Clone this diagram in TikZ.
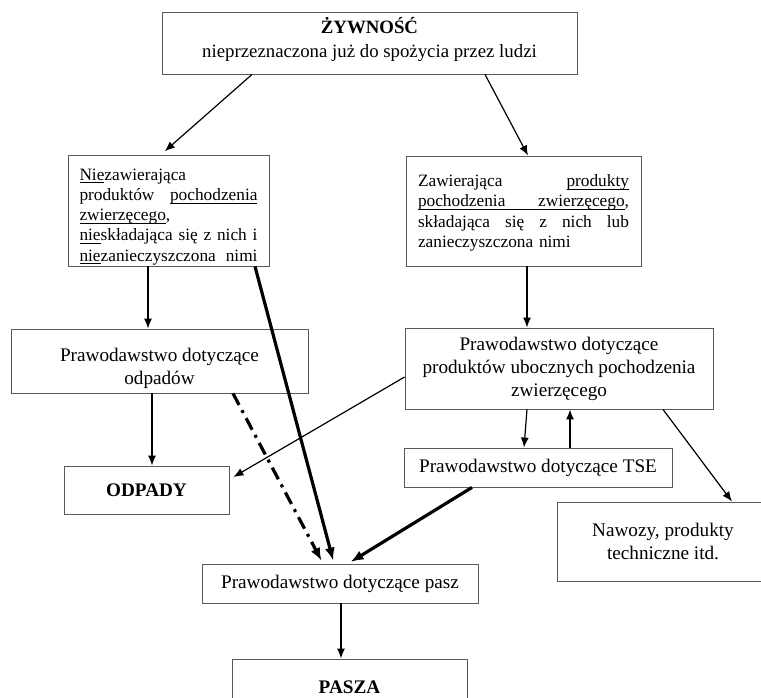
\documentclass[tikz,border=0pt]{standalone}
\usepackage{fontspec}
\setmainfont{Liberation Serif}
\usetikzlibrary{arrows.meta}
\newcommand\myul[1]{\leavevmode\setbox0\hbox{#1}\rlap{\rule[-3pt]{\wd0}{0.8pt}}\box0}
\newcommand\myulfill{\leaders\hrule height -2.2pt depth 3pt\hfill}
\newcommand\jsp{\hfill}
\begin{document}
\begin{tikzpicture}[x=1pt,y=-1pt,
  box/.style={draw=black!65,line width=0.9pt,rectangle,inner sep=0pt,align=center,
    font=\fontsize{19.2}{23}\selectfont},
  smallbox/.style={box,font=\fontsize{17.3}{20.3}\selectfont},
  thinarrow/.style={line width=1.2pt,-{Latex[length=10pt,width=8pt]}},
  thickarrow/.style={line width=3.2pt,-{Latex[length=13pt,width=10pt]}},
  dashdot/.style={line width=3.2pt,dash pattern=on 13pt off 6pt on 3pt off 6pt,-{Latex[length=13pt,width=10pt]}}]
\useasboundingbox (0,0) rectangle (761,698);
\clip (0,0) rectangle (761,698);
\fill[white] (0,0) rectangle (761,698);

\node[box,font=\fontsize{18.8}{24}\selectfont,minimum width=415pt,minimum height=62pt] (top) at (369.5,43)
  {\textbf{ŻYWNOŚĆ}\\nieprzeznaczona już do spożycia przez ludzi\rule[-10.5pt]{0pt}{10.5pt}};
\node[smallbox,minimum width=201pt,minimum height=111pt,text width=178pt,align=left] (left) at (168.5,210.5)
  {\rule{0pt}{24pt}\myul{Nie}zawierająca\\
   \makebox[178pt][s]{produktów\jsp\myul{pochodzenia}}\\
   \myul{zwierzęcego},\\
   \makebox[178pt][s]{\myul{nie}składająca\jsp się\jsp z\jsp nich\jsp i}\\
   \makebox[178pt][s]{\myul{nie}zanieczyszczona\jsp nimi}};
\node[smallbox,font=\fontsize{17.3}{20.5}\selectfont,minimum width=235pt,minimum height=110pt,text width=211pt,align=left] (right) at (523.5,211)
  {\rule{0pt}{16pt}\makebox[211pt][s]{Zawierająca\jsp\myul{produkty}}\\
   \makebox[211pt][s]{\myul{pochodzenia}\myulfill\myul{zwierzęcego},}\\
   \makebox[211pt][s]{składająca\jsp się\jsp z\jsp nich\jsp lub}\\
   zanieczyszczona nimi};
\node[box,minimum width=297pt,minimum height=64pt] (odplaw) at (159.5,361)
  {\rule{0pt}{28pt}Prawodawstwo dotyczące\\odpadów};
\node[box,minimum width=165pt,minimum height=48pt] (odpady) at (146.5,490) {\textbf{ODPADY}};
\node[box,minimum width=308pt,minimum height=81pt] (uboczne) at (559,368.5)
  {Prawodawstwo dotyczące\\produktów ubocznych pochodzenia\\zwierzęcego};
\node[box,minimum width=268pt,minimum height=39pt] (tse) at (538,467.5) {Prawodawstwo dotyczące TSE};
\node[box,minimum width=212pt,minimum height=79pt] (nawozy) at (663,541.5)
  {Nawozy, produkty\\techniczne itd.};
\node[box,minimum width=276pt,minimum height=39pt] (pasz) at (340,583.5) {Prawodawstwo dotyczące pasz};
\node[box,minimum width=235pt,minimum height=56pt] (pasza) at (349.5,687) {\textbf{PASZA}};

\draw[thinarrow,shorten >=5pt] ([xshift=-117.5pt]top.south) -- ([xshift=-7.5pt]left.north);
\draw[thinarrow] ([xshift=115.5pt]top.south) -- ([xshift=4.5pt]right.north);
\draw[thinarrow] ([xshift=-20.5pt]left.south) -- ([xshift=-20.5pt]left.south |- odplaw.north);
\draw[thickarrow,shorten >=3pt] ([xshift=86.5pt]left.south) -- ([xshift=-6pt]pasz.north);
\draw[dashdot,shorten >=3pt] ([xshift=73.5pt]odplaw.south) -- ([xshift=-17pt]pasz.north);
\draw[thinarrow] ([xshift=-7.5pt]odplaw.south) -- ([xshift=-7.5pt]odplaw.south |- odpady.north);
\draw[thinarrow] ([yshift=-8.5pt]uboczne.west) -- ([xshift=4pt,yshift=13pt]odpady.east);
\draw[thinarrow] ([xshift=3.5pt]right.south) -- ([xshift=3.5pt]right.south |- uboczne.north);
\draw[thinarrow] ([xshift=-32pt]uboczne.south) -- ([xshift=-14pt]tse.north);
\draw[thinarrow] ([xshift=32pt]tse.north) -- ([xshift=32pt]tse.north |- uboczne.south);
\draw[thinarrow] ([xshift=104pt]uboczne.south) -- ([xshift=69pt]nawozy.north);
\draw[thickarrow,shorten >=3pt] ([xshift=-66pt]tse.south) -- ([xshift=8pt]pasz.north);
\draw[thinarrow] ([xshift=1pt]pasz.south) -- ([xshift=1pt]pasz.south |- pasza.north);
\end{tikzpicture}
\end{document}
